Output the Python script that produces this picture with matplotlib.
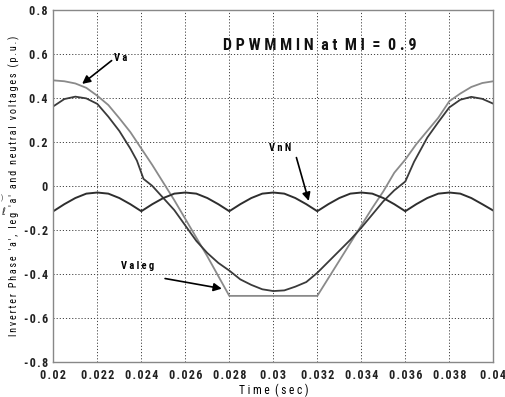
import matplotlib
matplotlib.use("Agg")
import matplotlib.pyplot as plt
from matplotlib import font_manager

# Pick a narrow sans face when one is available
narrow = "DejaVu Sans"
for name in ["Liberation Sans Narrow", "DejaVu Sans Condensed", "Roboto Condensed",
             "Open Sans Condensed", "Noto Sans Condensed"]:
    try:
        font_manager.findfont(font_manager.FontProperties(family=name),
                              fallback_to_default=False)
        narrow = name
        break
    except Exception:
        pass

plt.rcParams['font.family'] = [narrow, 'DejaVu Sans']
plt.rcParams['font.weight'] = 'bold'
plt.rcParams['font.stretch'] = 'condensed'

# Leg voltage (clamped to -0.5 p.u. around the negative peak)
valeg_t = [0.0200, 0.0205, 0.0210, 0.0215, 0.0220, 0.0225, 0.0230, 0.0235, 0.0240,
           0.0245, 0.0250, 0.0255, 0.0260, 0.0265, 0.0270, 0.0275, 0.0280,
           0.0320, 0.0325, 0.0330, 0.0335, 0.0340, 0.0345, 0.0350, 0.0355, 0.0360,
           0.0365, 0.0370, 0.0375, 0.0380, 0.0385, 0.0390, 0.0395, 0.0400]
valeg_v = [0.480, 0.476, 0.466, 0.446, 0.410, 0.368, 0.308, 0.245, 0.170,
           0.095, 0.015, -0.065, -0.150, -0.235, -0.320, -0.410, -0.500,
           -0.500, -0.420, -0.340, -0.260, -0.180, -0.100, -0.025, 0.060, 0.120,
           0.190, 0.250, 0.310, 0.385, 0.420, 0.450, 0.468, 0.476]

# Phase voltage
va_t = [0.0200, 0.0205, 0.0210, 0.0215, 0.0220, 0.0225, 0.0230, 0.0235, 0.0238,
        0.0241, 0.0245, 0.0250, 0.0255, 0.0260, 0.0265, 0.0270, 0.0275, 0.0280,
        0.0285, 0.0290, 0.0295, 0.0300, 0.0305, 0.0310, 0.0315, 0.0320, 0.0325,
        0.0330, 0.0335, 0.0340, 0.0345, 0.0350, 0.0355, 0.0360, 0.0364, 0.0370,
        0.0375, 0.0380, 0.0385, 0.0390, 0.0395, 0.0400]
va_v = [0.362, 0.395, 0.406, 0.398, 0.373, 0.315, 0.250, 0.170, 0.115,
        0.032, 0.000, -0.055, -0.110, -0.180, -0.250, -0.305, -0.350, -0.385,
        -0.425, -0.450, -0.470, -0.478, -0.475, -0.458, -0.437, -0.395, -0.345,
        -0.295, -0.245, -0.190, -0.130, -0.070, -0.020, 0.020, 0.110, 0.220,
        0.290, 0.357, 0.392, 0.405, 0.396, 0.374]

# Neutral voltage
vnn_t = [0.0200, 0.0205, 0.0210, 0.0215, 0.0220, 0.0225, 0.0230, 0.0235, 0.0240,
         0.0245, 0.0250, 0.0255, 0.0260, 0.0265, 0.0270, 0.0275, 0.0280,
         0.0285, 0.0290, 0.0295, 0.0300, 0.0305, 0.0310, 0.0315, 0.0320,
         0.0325, 0.0330, 0.0335, 0.0340, 0.0345, 0.0350, 0.0355, 0.0360,
         0.0365, 0.0370, 0.0375, 0.0380, 0.0385, 0.0390, 0.0395, 0.0400]
vnn_v = [-0.115, -0.083, -0.055, -0.035, -0.030, -0.035, -0.055, -0.083, -0.115,
         -0.083, -0.055, -0.035, -0.030, -0.035, -0.055, -0.083, -0.115,
         -0.083, -0.055, -0.035, -0.030, -0.035, -0.055, -0.083, -0.115,
         -0.083, -0.055, -0.035, -0.030, -0.035, -0.055, -0.083, -0.115,
         -0.083, -0.055, -0.035, -0.030, -0.035, -0.055, -0.083, -0.112]

x_ticks = [0.02, 0.022, 0.024, 0.026, 0.028, 0.03, 0.032, 0.034, 0.036, 0.038, 0.04]
x_tick_labels = ["0.02", "0.022", "0.024", "0.026", "0.028", "0.03", "0.032",
                 "0.034", "0.036", "0.038", "0.04"]
y_ticks = [-0.8, -0.6, -0.4, -0.2, 0, 0.2, 0.4, 0.6, 0.8]
y_tick_labels = ["-0.8", "-0.6", "-0.4", "-0.2", "0", "0.2", "0.4", "0.6", "0.8"]


def spaced(s, gap="\u200a"):
    return gap.join(s)


fig = plt.figure(figsize=(5.05, 3.97), dpi=100)
ax = fig.add_axes([0.1056, 0.0885, 0.8712, 0.8863])

ax.plot(valeg_t, valeg_v, color="#8a8a8a", lw=1.3)
ax.plot(va_t, va_v, color="#3a3a3a", lw=1.3)
ax.plot(vnn_t, vnn_v, color="#2e2e2e", lw=1.4)

ax.set_xlim(0.02, 0.04)
ax.set_ylim(-0.8, 0.8)
ax.set_xticks(x_ticks)
ax.set_xticklabels([spaced(s) for s in x_tick_labels])
ax.set_yticks(y_ticks)
ax.set_yticklabels([spaced(s) for s in y_tick_labels])
ax.tick_params(length=0, labelsize=8.7, pad=4, colors="#222222")
ax.tick_params(axis="x", pad=5)
ax.grid(True, color="#444444", linestyle=(0, (1.2, 2.0)), lw=0.7)
for sp in ax.spines.values():
    sp.set_color("#888888")
    sp.set_linewidth(1.0)

ax.set_xlabel("T i m e  ( s e c )", fontsize=8.3, labelpad=1)
ax.set_ylabel(spaced("Inverter Phase 'a', leg 'a' and neutral voltages (p.u.)",
                     "\u2009"), fontsize=7.2, va="center")
ax.yaxis.set_label_coords(-0.088, 0.5)

ax.text(0.0321, 0.64, "D P W M M I N  a t  M I  =  0 . 9", fontsize=11.5,
        ha="center", va="center", color="#111111")

# Stray marks at the left margin
fig.text(0.002, 1 - 198 / 397, ")", fontsize=5, ha="left", va="center",
         color="#333333", weight="normal")
fig.text(0.003, 1 - 212 / 397, "\u2113", fontsize=7.5, ha="left", va="center",
         color="#222222", style="italic", weight="normal",
         family=["DejaVu Sans"])

arrow = dict(arrowstyle="-|>", color="black", lw=1.2, mutation_scale=12,
             shrinkA=0, shrinkB=0)
ax.text(0.02308, 0.584, "V a", fontsize=7.5, ha="center", va="center")
ax.annotate("", xy=(0.02131, 0.464), xytext=(0.02265, 0.570), arrowprops=arrow)
ax.text(0.03032, 0.173, "V n N", fontsize=7.5, ha="center", va="center")
ax.annotate("", xy=(0.03161, -0.068), xytext=(0.03105, 0.129), arrowprops=arrow)
ax.text(0.02385, -0.365, "V a l e g", fontsize=7.5, ha="center", va="center")
ax.annotate("", xy=(0.02766, -0.467), xytext=(0.02508, -0.421), arrowprops=arrow)

fig.savefig("out.png", dpi=100)
